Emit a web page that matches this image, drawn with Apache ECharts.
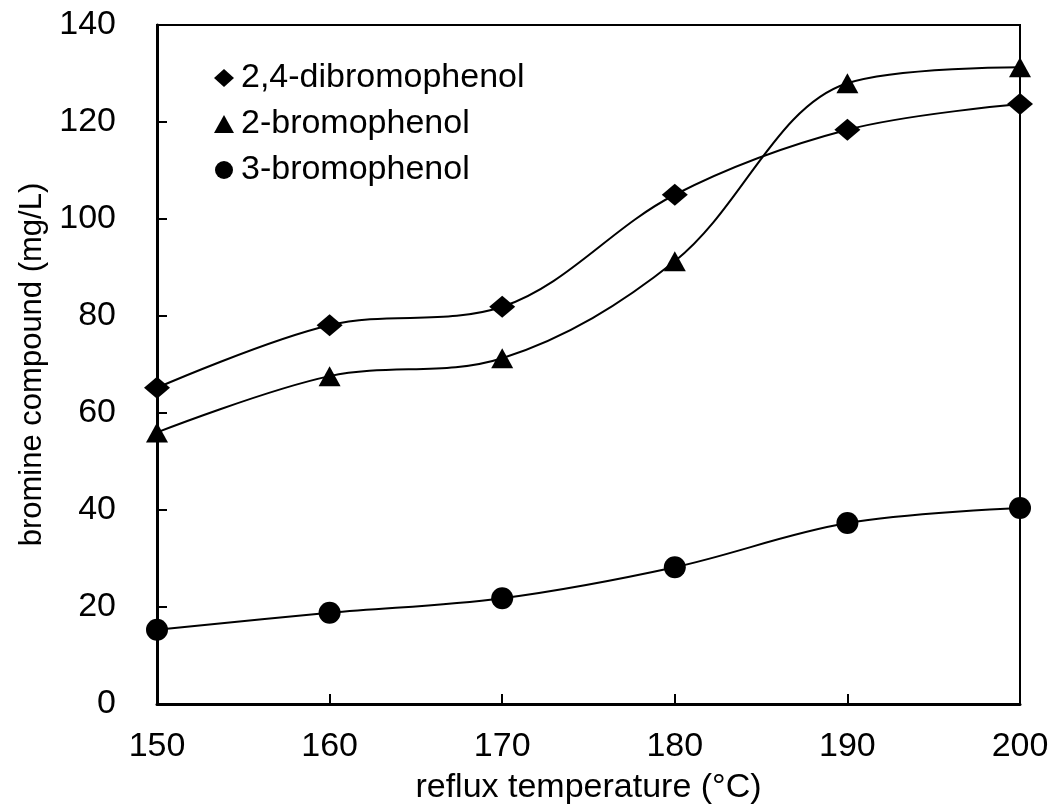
<!DOCTYPE html>
<html><head><meta charset="utf-8">
<script src="https://cdn.jsdelivr.net/npm/echarts@6/dist/echarts.min.js"></script>
<style>html,body{margin:0;padding:0;background:#fff}#c{width:1053px;height:811px}</style>
</head><body><div id="c"></div>
<script>
const temps = [150, 160, 170, 180, 190, 200];
const dibromo = [65.2, 78.1, 81.9, 105.0, 118.4, 123.7];
const bromo2 = [56.0, 67.6, 71.3, 91.3, 128.0, 131.3];
const bromo3 = [15.3, 18.8, 21.8, 28.2, 37.3, 40.4];
const names = ['2,4-dibromophenol', '2-bromophenol', '3-bromophenol'];

const F = 'Liberation Sans, Arial, sans-serif';
const chart = echarts.init(document.getElementById('c'));
function ser(name, vals, sym, size) {
  return {
    name, type: 'line', data: temps.map((t, i) => [t, vals[i]]),
    smooth: 0.35, symbol: sym, symbolSize: size,
    lineStyle: {color: '#000', width: 2},
    itemStyle: {color: '#000'}, z: 3, clip: false
  };
}
chart.setOption({
  animation: false,
  grid: {left: 157, right: 33, top: 25, bottom: 107, show: true, borderColor: '#000', borderWidth: 2},
  legend: {
    orient: 'vertical', left: 209, top: 56, itemWidth: 20, itemHeight: 18, itemGap: 12,
    textStyle: {fontFamily: F, fontSize: 34, color: '#000', padding: [0, 0, 0, 2]},
    data: [{name: names[0], icon: 'diamond'}, {name: names[1], icon: 'triangle'}, {name: names[2], icon: 'circle'}]
  },
  xAxis: {
    type: 'value', min: 150, max: 200, interval: 10,
    name: 'reflux temperature (°C)', nameLocation: 'middle', nameGap: 67,
    nameTextStyle: {fontFamily: F, fontSize: 34, color: '#000'},
    axisLine: {lineStyle: {color: '#000', width: 3}},
    axisTick: {inside: true, length: 10, lineStyle: {color: '#000', width: 2}},
    axisLabel: {fontFamily: F, fontSize: 34, color: '#000', margin: 26},
    splitLine: {show: false}
  },
  yAxis: {
    type: 'value', min: 0, max: 140, interval: 20,
    name: 'bromine compound (mg/L)', nameLocation: 'middle', nameGap: 109,
    nameTextStyle: {fontFamily: F, fontSize: 31, color: '#000'},
    axisLine: {show: true, lineStyle: {color: '#000', width: 3}},
    axisTick: {show: true, inside: true, length: 10, lineStyle: {color: '#000', width: 2}},
    axisLabel: {fontFamily: F, fontSize: 34, color: '#000', margin: 41},
    splitLine: {show: false}
  },
  series: [
    ser(names[0], dibromo, 'diamond', [26, 22]),
    ser(names[1], bromo2, 'triangle', [22, 20]),
    ser(names[2], bromo3, 'circle', 22)
  ]
});
</script></body></html>
